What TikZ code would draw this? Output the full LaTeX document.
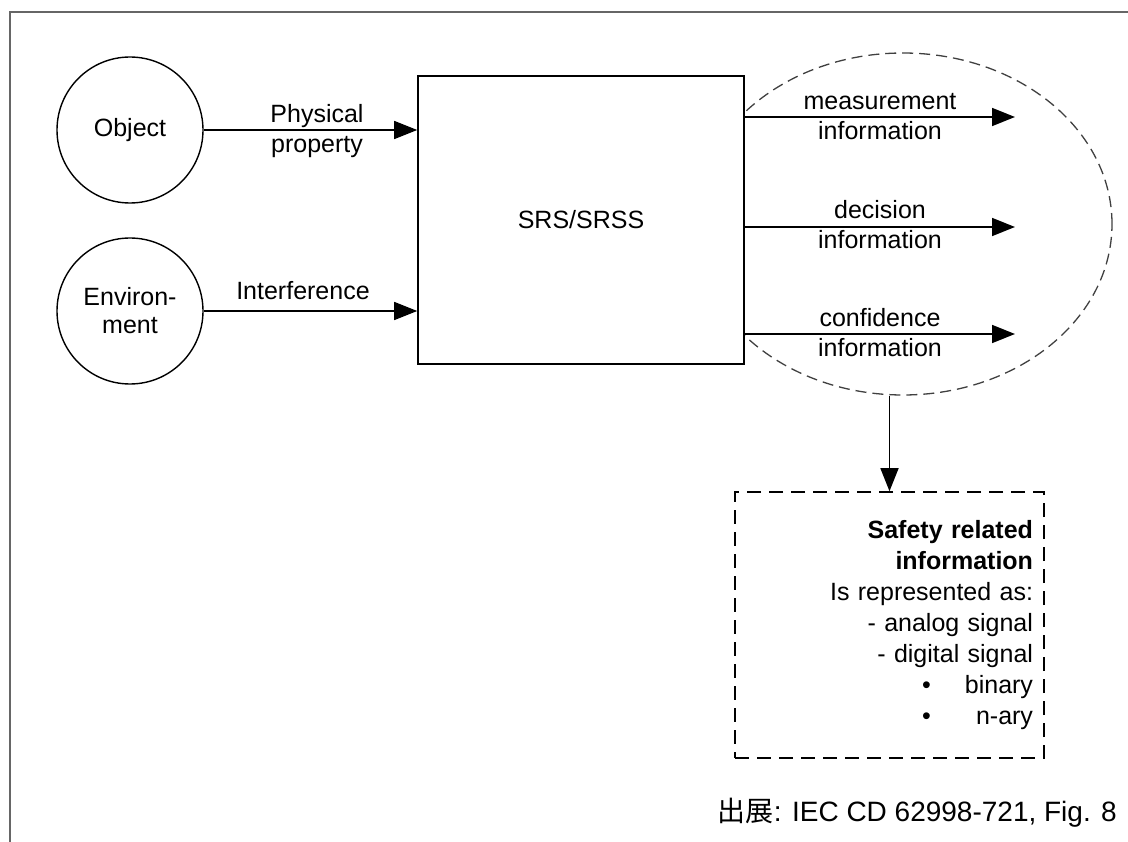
\documentclass[tikz,border=0pt]{standalone}
\usepackage{fontspec}
\setmainfont{Liberation Sans}
\newfontfamily\cjkfont{Noto Sans CJK JP}
\usetikzlibrary{arrows.meta,shapes.geometric}
\tikzset{
  lbl/.style={font=\fontsize{25}{30}\selectfont, align=center, inner sep=0pt},
  circ/.style={draw, circle, line width=1.4pt, minimum size=146pt, inner sep=0pt, font=\fontsize{25}{28}\selectfont, align=center},
  arr/.style={line width=1.6pt, -{Triangle[length=23pt,width=18pt]}},
  ellip/.style={draw=black!75, dash pattern=on 11pt off 6pt, line width=1.3pt, ellipse, inner sep=0pt},
  srsbox/.style={draw, fill=white, line width=1.6pt, inner sep=0pt, font=\fontsize{25}{30}\selectfont},
  infobox/.style={draw, dash pattern=on 14pt off 8pt, line width=1.6pt, inner xsep=11pt, inner ysep=0pt, align=right, font=\fontsize{25}{31}\selectfont},
  frame/.style={draw=black!60, line width=2pt}
}
\begin{document}
\begin{tikzpicture}[x=1pt,y=-1pt]
\useasboundingbox (0,0) rectangle (1128,842);
\draw[frame] (10,842) -- (10,12) -- (1128,12);

% dashed ellipse (behind the box)
\node[ellip, minimum width=418pt, minimum height=342pt] (ell) at (903,224) {};

% main box
\node[srsbox, minimum width=326pt, minimum height=288pt] (srs) at (581,220) {SRS/SRSS};

% circles
\node[circ] (obj) at (130,130) {Object};
\node[circ] (env) at (130,311) {Environ-\\ment};

% input arrows
\draw[arr] (obj.east) -- (obj.east -| srs.west);
\draw[arr] (env.east) -- (env.east -| srs.west);
\node[lbl] (pp) at (317,131) {Physical\\property};
\node[lbl] (intf) at (303,291) {Interference};

% output arrows
\coordinate (t1) at (1015,117);
\coordinate (t2) at (1015,227);
\coordinate (t3) at (1015,334);
\draw[arr] (t1 -| srs.east) -- (t1);
\draw[arr] (t2 -| srs.east) -- (t2);
\draw[arr] (t3 -| srs.east) -- (t3);
\node[lbl] (l1) at (880,117) {measurement\\information};
\node[lbl] (l2) at (880,225) {decision\\information};
\node[lbl] (l3) at (880,333) {confidence\\information};

% safety related information box
\node[infobox, minimum width=309pt, minimum height=266pt, text width=287pt] (sri) at (889.5,625)
  {\textbf{Safety related}\\
   \textbf{information}\\
   Is represented as:\\
   - analog signal\\
   - digital signal\\
   \makebox[111pt]{\textbullet\hfill binary}\\
   \makebox[111pt]{\textbullet\hfill n-ary}};

\draw[arr] (ell.south -| sri.north) -- (sri.north);

% caption
\node[anchor=east, inner sep=0pt, font=\fontsize{28}{32}\selectfont] (cap) at (1117,813)
  {{\cjkfont 出展}: IEC CD 62998-721, Fig. 8};
\end{tikzpicture}
\end{document}
